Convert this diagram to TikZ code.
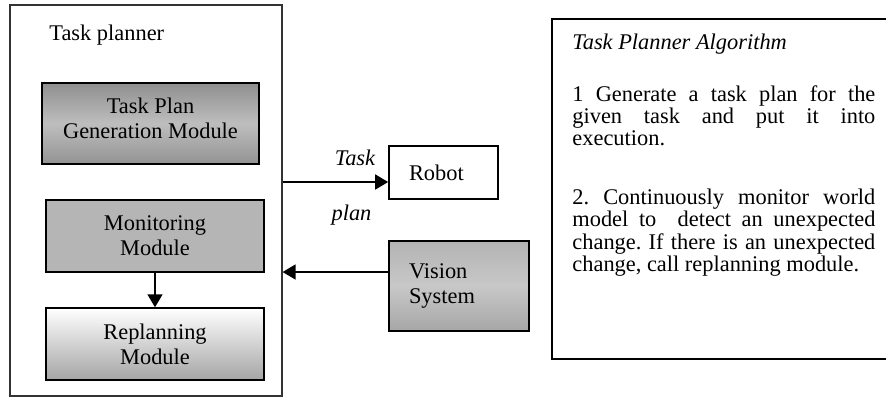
\documentclass[tikz,border=0pt]{standalone}
\usepackage{fontspec}
\setmainfont{Liberation Serif}
\usetikzlibrary{arrows.meta,positioning}
\definecolor{genTop}{HTML}{8F8F8F}
\definecolor{genMid}{HTML}{BEBEBE}
\definecolor{genBot}{HTML}{939393}
\definecolor{monFill}{HTML}{B5B5B5}
\definecolor{repBot}{HTML}{A5A5A5}
\definecolor{visTop}{HTML}{B3B3B3}
\definecolor{visMid}{HTML}{C8C8C8}
\definecolor{visBot}{HTML}{A6A6A6}
\newcommand\parasetup{\frenchspacing\lineskiplimit-10pt\relax\lineskip0pt\relax\hyphenpenalty10000\relax\exhyphenpenalty10000\relax\tolerance10000\relax}
\tikzset{
  module/.style={draw, line width=0.75pt, minimum width=109pt, minimum height=36pt, align=center, inner sep=1pt},
  genmod/.style={module, minimum width=108.5pt, minimum height=40.5pt, top color=genTop, bottom color=genBot, middle color=genMid},
  monmod/.style={module, fill=monFill},
  repmod/.style={module, top color=white, bottom color=repBot},
  ext/.style={draw, line width=0.85pt, inner xsep=10pt, inner ysep=1pt, align=left},
  lbl/.style={inner sep=0pt, font=\fontsize{11.2}{12.5}\selectfont\itshape},
  para/.style={inner sep=0pt, text width=151.5pt, align=justify, font=\fontsize{11.2}{9.3}\selectfont},
  line/.style={-{Triangle[length=6.5pt, width=7.5pt]}, line width=0.85pt}
}

\begin{document}
\begin{tikzpicture}[x=0.5pt, y=-0.5pt, font=\fontsize{11.2}{12.5}\selectfont]
  \useasboundingbox (0,0) rectangle (886,398);

  % task planner and its modules
  \node[draw=black!80, line width=0.6pt, minimum width=136pt, minimum height=195.5pt, inner sep=0pt] (planner) at (146,200.5) {};
  \node[anchor=base west, inner sep=0pt] (plannertitle) at (49,40.5) {Task planner};
  \node[genmod, text depth=5pt] (gen) at (150.5,123.5) {Task Plan\\Generation Module};
  \node[monmod] (monitor) at (155,236) {Monitoring\\Module};
  \node[repmod] (replan) at (155,344) {Replanning\\Module};

  % outside
  \node[ext, text width=34.5pt, minimum height=26.5pt] (robot) at (443.5,172.5) {Robot};
  \node[ext, text width=50pt, minimum height=45pt, line width=0.75pt, top color=visTop, bottom color=visBot, middle color=visMid, text depth=15pt] (vision) at (459,286) {Vision\\System};
  \node[lbl, anchor=base] (tasklbl) at (355,165) {Task};
  \node[lbl, anchor=base] (planlbl) at (351.5,220.5) {plan};

  % algorithm (right side runs off the page)
  \node[draw, line width=1pt, minimum width=224pt, minimum height=170pt, inner sep=0pt] (algo) at (776,189) {};
  \node[lbl, anchor=base west] (algtitle) at (572,49.5) {Task Planner Algorithm};
  \node[para, anchor=base west] (step1) at (572,101.5) {\parasetup 1 Generate a task plan for the\linebreak given task and put it into\linebreak execution.};
  \node[para, anchor=base west] (step2) at (572,204.5) {\parasetup 2. Continuously monitor world\linebreak model to\ \ detect an unexpected\linebreak change. If there is an unexpected\linebreak change, call replanning module.};

  \coordinate (planlevel) at (0,182);
  \coordinate (visionlevel) at (0,272);
  \draw[line] (planner.east |- planlevel) -- (robot.west |- planlevel);
  \draw[line] (vision.west |- visionlevel) -- (planner.east |- visionlevel);
  \draw[line] (monitor) -- (replan);
\end{tikzpicture}
\end{document}
